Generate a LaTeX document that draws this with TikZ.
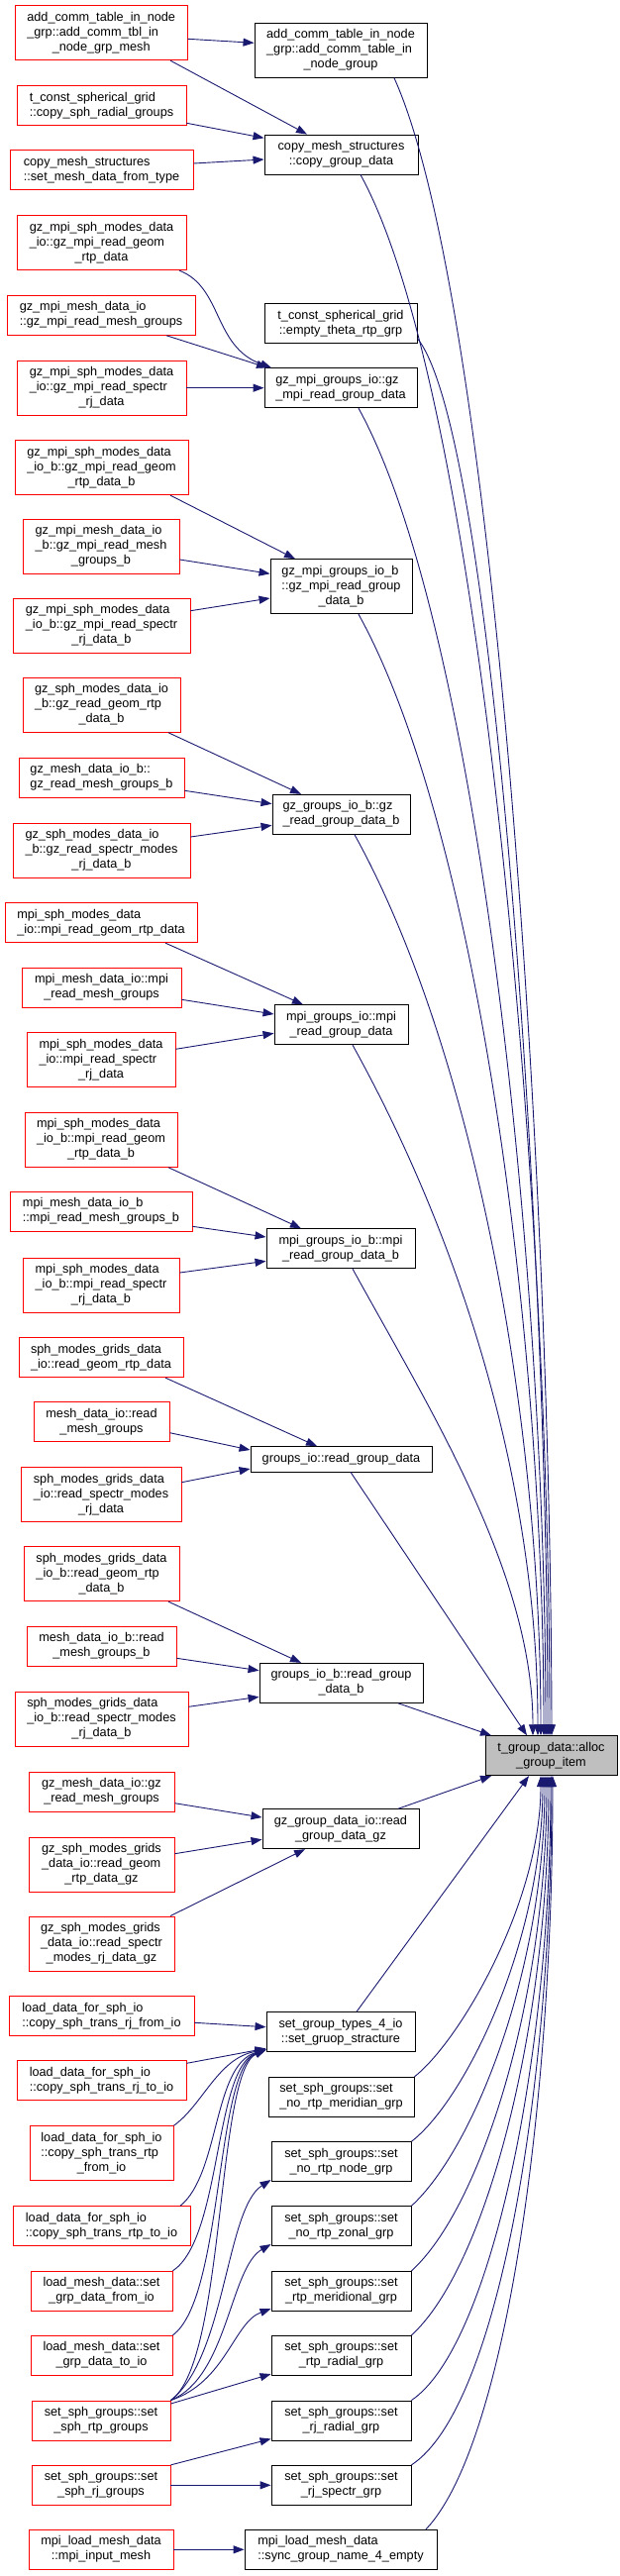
\documentclass[tikz,border=0pt]{standalone}
\usepackage{fontspec}
\setmainfont{Liberation Sans}
\usetikzlibrary{arrows.meta}
\definecolor{edgec}{HTML}{191970}
\definecolor{boxred}{HTML}{FF0000}
\definecolor{maingray}{HTML}{BFBFBF}
\newcommand\LabTwo[2]{\begin{tabular}{@{}l@{}}#1\\\multicolumn{1}{@{}c@{}}{#2}\end{tabular}}
\newcommand\LabThree[3]{\begin{tabular}{@{}l@{}}#1\\#2\\\multicolumn{1}{@{}c@{}}{#3}\end{tabular}}
\begin{document}
\begin{tikzpicture}[x=1pt,y=-1pt,
  basebox/.style={line width=0.9pt, inner sep=0pt, font=\fontsize{12.7pt}{15pt}\selectfont},
  rbox/.style={basebox, draw=boxred},
  kbox/.style={basebox, draw=black},
  mbox/.style={basebox, draw=black, fill=maingray},
  sz/.style 2 args={minimum width=#1pt, minimum height=#2pt},
  conn/.style={draw=edgec, line width=0.9pt, -{Triangle[length=11pt,width=8pt]}}]
\useasboundingbox (0,0) rectangle (625,2601);

% ---------- column A (callers, red) ----------
\node[rbox, sz={174}{55}] (A1) at (102.2,33.2) {\LabThree{add\_comm\_table\_in\_node}{\_grp::add\_comm\_tbl\_in}{\_node\_grp\_mesh}};
\node[rbox, sz={171}{40}] (A2) at (102.5,106.7) {\LabTwo{t\_const\_spherical\_grid}{::copy\_sph\_radial\_groups}};
\node[rbox, sz={185}{40}] (A3) at (102.5,171.8) {\LabTwo{copy\_mesh\_structures}{::set\_mesh\_data\_from\_type}};
\node[rbox, sz={171}{55}] (A4) at (102.5,245.2) {\LabThree{gz\_mpi\_sph\_modes\_data}{\_io::gz\_mpi\_read\_geom}{\_rtp\_data}};
\node[rbox, sz={190}{40}] (A5) at (102,318.3) {\LabTwo{gz\_mpi\_mesh\_data\_io}{::gz\_mpi\_read\_mesh\_groups}};
\node[rbox, sz={171}{55}] (A6) at (102.5,391.8) {\LabThree{gz\_mpi\_sph\_modes\_data}{\_io::gz\_mpi\_read\_spectr}{\_rj\_data}};
\node[rbox, sz={175}{55}] (A7) at (102.5,472.2) {\LabThree{gz\_mpi\_sph\_modes\_data}{\_io\_b::gz\_mpi\_read\_geom}{\_rtp\_data\_b}};
\node[rbox, sz={158}{55}] (A8) at (102,551.8) {\LabThree{gz\_mpi\_mesh\_data\_io}{\_b::gz\_mpi\_read\_mesh}{\_groups\_b}};
\node[rbox, sz={179}{55}] (A9) at (102.5,631.8) {\LabThree{gz\_mpi\_sph\_modes\_data}{\_io\_b::gz\_mpi\_read\_spectr}{\_rj\_data\_b}};
\node[rbox, sz={159}{55}] (A10) at (102.5,711.8) {\LabThree{gz\_sph\_modes\_data\_io}{\_b::gz\_read\_geom\_rtp}{\_data\_b}};
\node[rbox, sz={167}{40}] (A11) at (102.5,785) {\LabTwo{gz\_mesh\_data\_io\_b::}{gz\_read\_mesh\_groups\_b}};
\node[rbox, sz={179}{55}] (A12) at (102.5,858.5) {\LabThree{gz\_sph\_modes\_data\_io}{\_b::gz\_read\_spectr\_modes}{\_rj\_data\_b}};
\node[rbox, sz={194}{40}] (A13) at (102,931.7) {\LabTwo{mpi\_sph\_modes\_data}{\_io::mpi\_read\_geom\_rtp\_data}};
\node[rbox, sz={161}{40}] (A14) at (102.5,997.3) {\LabTwo{mpi\_mesh\_data\_io::mpi}{\_read\_mesh\_groups}};
\node[rbox, sz={150}{55}] (A15) at (102,1070.2) {\LabThree{mpi\_sph\_modes\_data}{\_io::mpi\_read\_spectr}{\_rj\_data}};
\node[rbox, sz={154}{55}] (A16) at (102,1150.8) {\LabThree{mpi\_sph\_modes\_data}{\_io\_b::mpi\_read\_geom}{\_rtp\_data\_b}};
\node[rbox, sz={184}{40}] (A17) at (102,1223.3) {\LabTwo{mpi\_mesh\_data\_io\_b}{::mpi\_read\_mesh\_groups\_b}};
\node[rbox, sz={158}{55}] (A18) at (102,1297.5) {\LabThree{mpi\_sph\_modes\_data}{\_io\_b::mpi\_read\_spectr}{\_rj\_data\_b}};
\node[rbox, sz={166}{40}] (A19) at (102,1370.7) {\LabTwo{sph\_modes\_grids\_data}{\_io::read\_geom\_rtp\_data}};
\node[rbox, sz={137}{40}] (A20) at (102.5,1435.7) {\LabTwo{mesh\_data\_io::read}{\_mesh\_groups}};
\node[rbox, sz={162}{55}] (A21) at (102,1509.2) {\LabThree{sph\_modes\_grids\_data}{\_io::read\_spectr\_modes}{\_rj\_data}};
\node[rbox, sz={157}{55}] (A22) at (102.5,1589.2) {\LabThree{sph\_modes\_grids\_data}{\_io\_b::read\_geom\_rtp}{\_data\_b}};
\node[rbox, sz={151}{40}] (A23) at (102.5,1662.3) {\LabTwo{mesh\_data\_io\_b::read}{\_mesh\_groups\_b}};
\node[rbox, sz={175}{55}] (A24) at (102.5,1735.8) {\LabThree{sph\_modes\_grids\_data}{\_io\_b::read\_spectr\_modes}{\_rj\_data\_b}};
\node[rbox, sz={147}{40}] (A25) at (102.5,1809) {\LabTwo{gz\_mesh\_data\_io::gz}{\_read\_mesh\_groups}};
\node[rbox, sz={147}{55}] (A26) at (102.5,1882.5) {\LabThree{gz\_sph\_modes\_grids}{\_data\_io::read\_geom}{\_rtp\_data\_gz}};
\node[rbox, sz={147}{55}] (A27) at (102.5,1962.5) {\LabThree{gz\_sph\_modes\_grids}{\_data\_io::read\_spectr}{\_modes\_rj\_data\_gz}};
\node[rbox, sz={187}{40}] (A28) at (102.5,2035.7) {\LabTwo{load\_data\_for\_sph\_io}{::copy\_sph\_trans\_rj\_from\_io}};
\node[rbox, sz={171}{40}] (A29) at (102.5,2100.7) {\LabTwo{load\_data\_for\_sph\_io}{::copy\_sph\_trans\_rj\_to\_io}};
\node[rbox, sz={145}{55}] (A30) at (102.5,2174.2) {\LabThree{load\_data\_for\_sph\_io}{::copy\_sph\_trans\_rtp}{\_from\_io}};
\node[rbox, sz={179}{40}] (A31) at (102.5,2247.7) {\LabTwo{load\_data\_for\_sph\_io}{::copy\_sph\_trans\_rtp\_to\_io}};
\node[rbox, sz={143}{40}] (A32) at (102.5,2313.3) {\LabTwo{load\_mesh\_data::set}{\_grp\_data\_from\_io}};
\node[rbox, sz={143}{40}] (A33) at (102.5,2378.3) {\LabTwo{load\_mesh\_data::set}{\_grp\_data\_to\_io}};
\node[rbox, sz={140}{40}] (A34) at (102,2444) {\LabTwo{set\_sph\_groups::set}{\_sph\_rtp\_groups}};
\node[rbox, sz={140}{40}] (A35) at (102,2509.3) {\LabTwo{set\_sph\_groups::set}{\_sph\_rj\_groups}};
\node[rbox, sz={146}{40}] (A36) at (102,2574.3) {\LabTwo{mpi\_load\_mesh\_data}{::mpi\_input\_mesh}};

% ---------- column B (black) ----------
\node[kbox, sz={174}{55}] (B1) at (344,50.8) {\LabThree{add\_comm\_table\_in\_node}{\_grp::add\_comm\_table\_in}{\_node\_group}};
\node[kbox, sz={155}{40}] (B2) at (344.5,156) {\LabTwo{copy\_mesh\_structures}{::copy\_group\_data}};
\node[kbox, sz={154}{40}] (B3) at (344,326.7) {\LabTwo{t\_const\_spherical\_grid}{::empty\_theta\_rtp\_grp}};
\node[kbox, sz={154}{40}] (B4) at (344,391.7) {\LabTwo{gz\_mpi\_groups\_io::gz}{\_mpi\_read\_group\_data}};
\node[kbox, sz={143}{55}] (B5) at (344.5,592.2) {\LabThree{gz\_mpi\_groups\_io\_b}{::gz\_mpi\_read\_group}{\_data\_b}};
\node[kbox, sz={139}{40}] (B6) at (344.5,822.3) {\LabTwo{gz\_groups\_io\_b::gz}{\_read\_group\_data\_b}};
\node[kbox, sz={135}{40}] (B7) at (344.5,1034.7) {\LabTwo{mpi\_groups\_io::mpi}{\_read\_group\_data}};
\node[kbox, sz={150}{40}] (B8) at (344,1260.7) {\LabTwo{mpi\_groups\_io\_b::mpi}{\_read\_group\_data\_b}};
\node[kbox, sz={183}{25.3}] (B9) at (344.5,1473.3) {groups\_io::read\_group\_data};
\node[kbox, sz={165}{40}] (B10) at (344.5,1699.3) {\LabTwo{groups\_io\_b::read\_group}{\_data\_b}};
\node[kbox, sz={158}{40}] (B11) at (344,1846.7) {\LabTwo{gz\_group\_data\_io::read}{\_group\_data\_gz}};
\node[kbox, sz={150}{40}] (B12) at (344,2051.7) {\LabTwo{set\_group\_types\_4\_io}{::set\_gruop\_stracture}};
\node[kbox, sz={147}{40}] (B13) at (344.5,2117.3) {\LabTwo{set\_sph\_groups::set}{\_no\_rtp\_meridian\_grp}};
\node[kbox, sz={141}{40}] (B14) at (344.5,2182.7) {\LabTwo{set\_sph\_groups::set}{\_no\_rtp\_node\_grp}};
\node[kbox, sz={141}{40}] (B15) at (344.5,2247.7) {\LabTwo{set\_sph\_groups::set}{\_no\_rtp\_zonal\_grp}};
\node[kbox, sz={141}{40}] (B16) at (344.5,2313.3) {\LabTwo{set\_sph\_groups::set}{\_rtp\_meridional\_grp}};
\node[kbox, sz={141}{40}] (B17) at (344.5,2378.3) {\LabTwo{set\_sph\_groups::set}{\_rtp\_radial\_grp}};
\node[kbox, sz={141}{40}] (B18) at (344.5,2444) {\LabTwo{set\_sph\_groups::set}{\_rj\_radial\_grp}};
\node[kbox, sz={141}{40}] (B19) at (344.5,2509.3) {\LabTwo{set\_sph\_groups::set}{\_rj\_spectr\_grp}};
\node[kbox, sz={194}{40}] (B20) at (344,2574.3) {\LabTwo{mpi\_load\_mesh\_data}{::sync\_group\_name\_4\_empty}};

% ---------- target ----------
\node[mbox, sz={133}{40}] (M) at (556.5,1772.7) {\LabTwo{t\_group\_data::alloc}{\_group\_item}};

% ---------- edges A -> B ----------
\draw[conn] (A1.east |- 0,39.3) -- (B1.west |- 0,43.3);
\draw[conn] (A1.south -| 172,0) -- (B2.north -| 310,0);
\draw[conn] (A2.east |- 0,124.3) -- (B2.west |- 0,139.3);
\draw[conn] (A3.east |- 0,165) -- (B2.west |- 0,161);
\draw[conn] (A4.south -| 181,0) .. controls (225,290) and (215,350) .. (B4.north -| 274,0);
\draw[conn] (A5.south -| 168,0) -- (B4.north -| 270,0);
\draw[conn] (A6.east |- 0,391.7) -- (B4.west |- 0,391.7);
\draw[conn] (A7.south -| 172,0) -- (B5.north -| 298,0);
\draw[conn] (A8.east |- 0,565) -- (B5.west |- 0,579.3);
\draw[conn] (A9.east |- 0,616.7) -- (B5.west |- 0,604);
\draw[conn] (A10.south -| 170,0) -- (B6.north -| 304,0);
\draw[conn] (A11.east |- 0,798.3) -- (B6.west |- 0,811.7);
\draw[conn] (A12.east |- 0,845) -- (B6.west |- 0,833.3);
\draw[conn] (A13.south -| 167,0) -- (B7.north -| 306,0);
\draw[conn] (A14.east |- 0,1009.3) -- (B7.west |- 0,1024);
\draw[conn] (A15.east |- 0,1059.3) -- (B7.west |- 0,1043.3);
\draw[conn] (A16.south -| 170,0) -- (B8.north -| 304,0);
\draw[conn] (A17.east |- 0,1238.3) -- (B8.west |- 0,1249);
\draw[conn] (A18.east |- 0,1285) -- (B8.west |- 0,1273.3);
\draw[conn] (A19.south -| 167,0) -- (B9.north -| 320,0);
\draw[conn] (A20.east |- 0,1446.7) -- (B9.west |- 0,1464);
\draw[conn] (A21.east |- 0,1496.7) -- (B9.west |- 0,1483);
\draw[conn] (A22.south -| 170,0) -- (B10.north -| 304,0);
\draw[conn] (A23.east |- 0,1674.3) -- (B10.west |- 0,1686.7);
\draw[conn] (A24.east |- 0,1723.3) -- (B10.west |- 0,1713.3);
\draw[conn] (A25.east |- 0,1820.7) -- (B11.west |- 0,1835);
\draw[conn] (A26.east |- 0,1871.7) -- (B11.west |- 0,1857.3);
\draw[conn] (A27.north -| 172,0) -- (B11.south -| 308,0);
\draw[conn] (A28.east |- 0,2042.3) -- (B12.west |- 0,2046.7);
\draw[conn] (A29.east |- 0,2083.3) -- (B12.west |- 0,2068.3);
\draw[conn] (A30.north east) .. controls (205,2125) and (220,2078) .. (B12.west |- 0,2069.5);
\draw[conn] (A31.north -| 182,0) .. controls (222,2195) and (215,2085) .. (B12.west |- 0,2069.5);
\draw[conn] (A32.north east) .. controls (224,2260) and (216,2088) .. (B12.west |- 0,2069.5);
\draw[conn] (A33.north east) .. controls (226,2320) and (217,2090) .. (B12.west |- 0,2069.5);
\draw[conn] (A34.north east) .. controls (228,2385) and (218,2092) .. (B12.west |- 0,2069.5);
\draw[conn] (A34.north east) .. controls (228,2380) and (228,2230) .. (B14.west |- 0,2201);
\draw[conn] (A34.north east) .. controls (230,2400) and (232,2290) .. (B15.west |- 0,2266);
\draw[conn] (A34.north east) .. controls (228,2405) and (236,2345) .. (B16.west |- 0,2331);
\draw[conn] (A34.east |- 0,2427) -- (B17.west |- 0,2397);
\draw[conn] (A35.north east) -- (B18.west |- 0,2462.5);
\draw[conn] (A35.east) -- (B19.west);
\draw[conn] (A36.east) -- (B20.west);

% ---------- edges B -> target (from above) ----------
\draw[conn] (B1.south -| 398,0) .. controls (497,298) and (556,1167) .. (M.north -| 557,0);
\draw[conn] (B2.south -| 364,0) .. controls (485,396) and (555,1201) .. (M.north -| 555,0);
\draw[conn] (B3.east |- 0,341.7) .. controls (500,440) and (553,1259) .. (M.north -| 553,0);
\draw[conn] (B4.south -| 362,0) .. controls (483,632) and (551,1284) .. (M.north -| 551,0);
\draw[conn] (B5.south -| 362,0) .. controls (483,839) and (549,1356) .. (M.north -| 549,0);
\draw[conn] (B6.south -| 358,0) .. controls (479,1062) and (546,1434) .. (M.north -| 546,0);
\draw[conn] (B7.south -| 356,0) .. controls (471,1263) and (543,1509) .. (M.north -| 543,0);
\draw[conn] (B8.south -| 356,0) .. controls (434,1423) and (538,1588) .. (M.north -| 538,0);
\draw[conn] (B9.south -| 354,0) -- (M.north -| 532,0);
\draw[conn] (B10.south -| 402,0) -- (M.north -| 496,0);

% ---------- edges B -> target (from below) ----------
\draw[conn] (B11.north -| 402,0) -- (M.south -| 496,0);
\draw[conn] (B12.north -| 360,0) -- (M.south -| 534,0);
\draw[conn] (B13.north east) .. controls (465,2060) and (546,1920) .. (M.south -| 546,0);
\draw[conn] (B14.north east) .. controls (470,2120) and (548,1960) .. (M.south -| 548,0);
\draw[conn] (B15.north east) .. controls (478,2170) and (550,1990) .. (M.south -| 550,0);
\draw[conn] (B16.north east) .. controls (485,2230) and (552,2020) .. (M.south -| 552,0);
\draw[conn] (B17.north east) .. controls (490,2290) and (554,2050) .. (M.south -| 554,0);
\draw[conn] (B18.north east) .. controls (495,2370) and (556,2080) .. (M.south -| 556,0);
\draw[conn] (B19.north east) .. controls (505,2430) and (557,2100) .. (M.south -| 557,0);
\draw[conn] (B20.north -| 430,0) .. controls (510,2470) and (558,2130) .. (M.south -| 558,0);
\end{tikzpicture}
\end{document}
